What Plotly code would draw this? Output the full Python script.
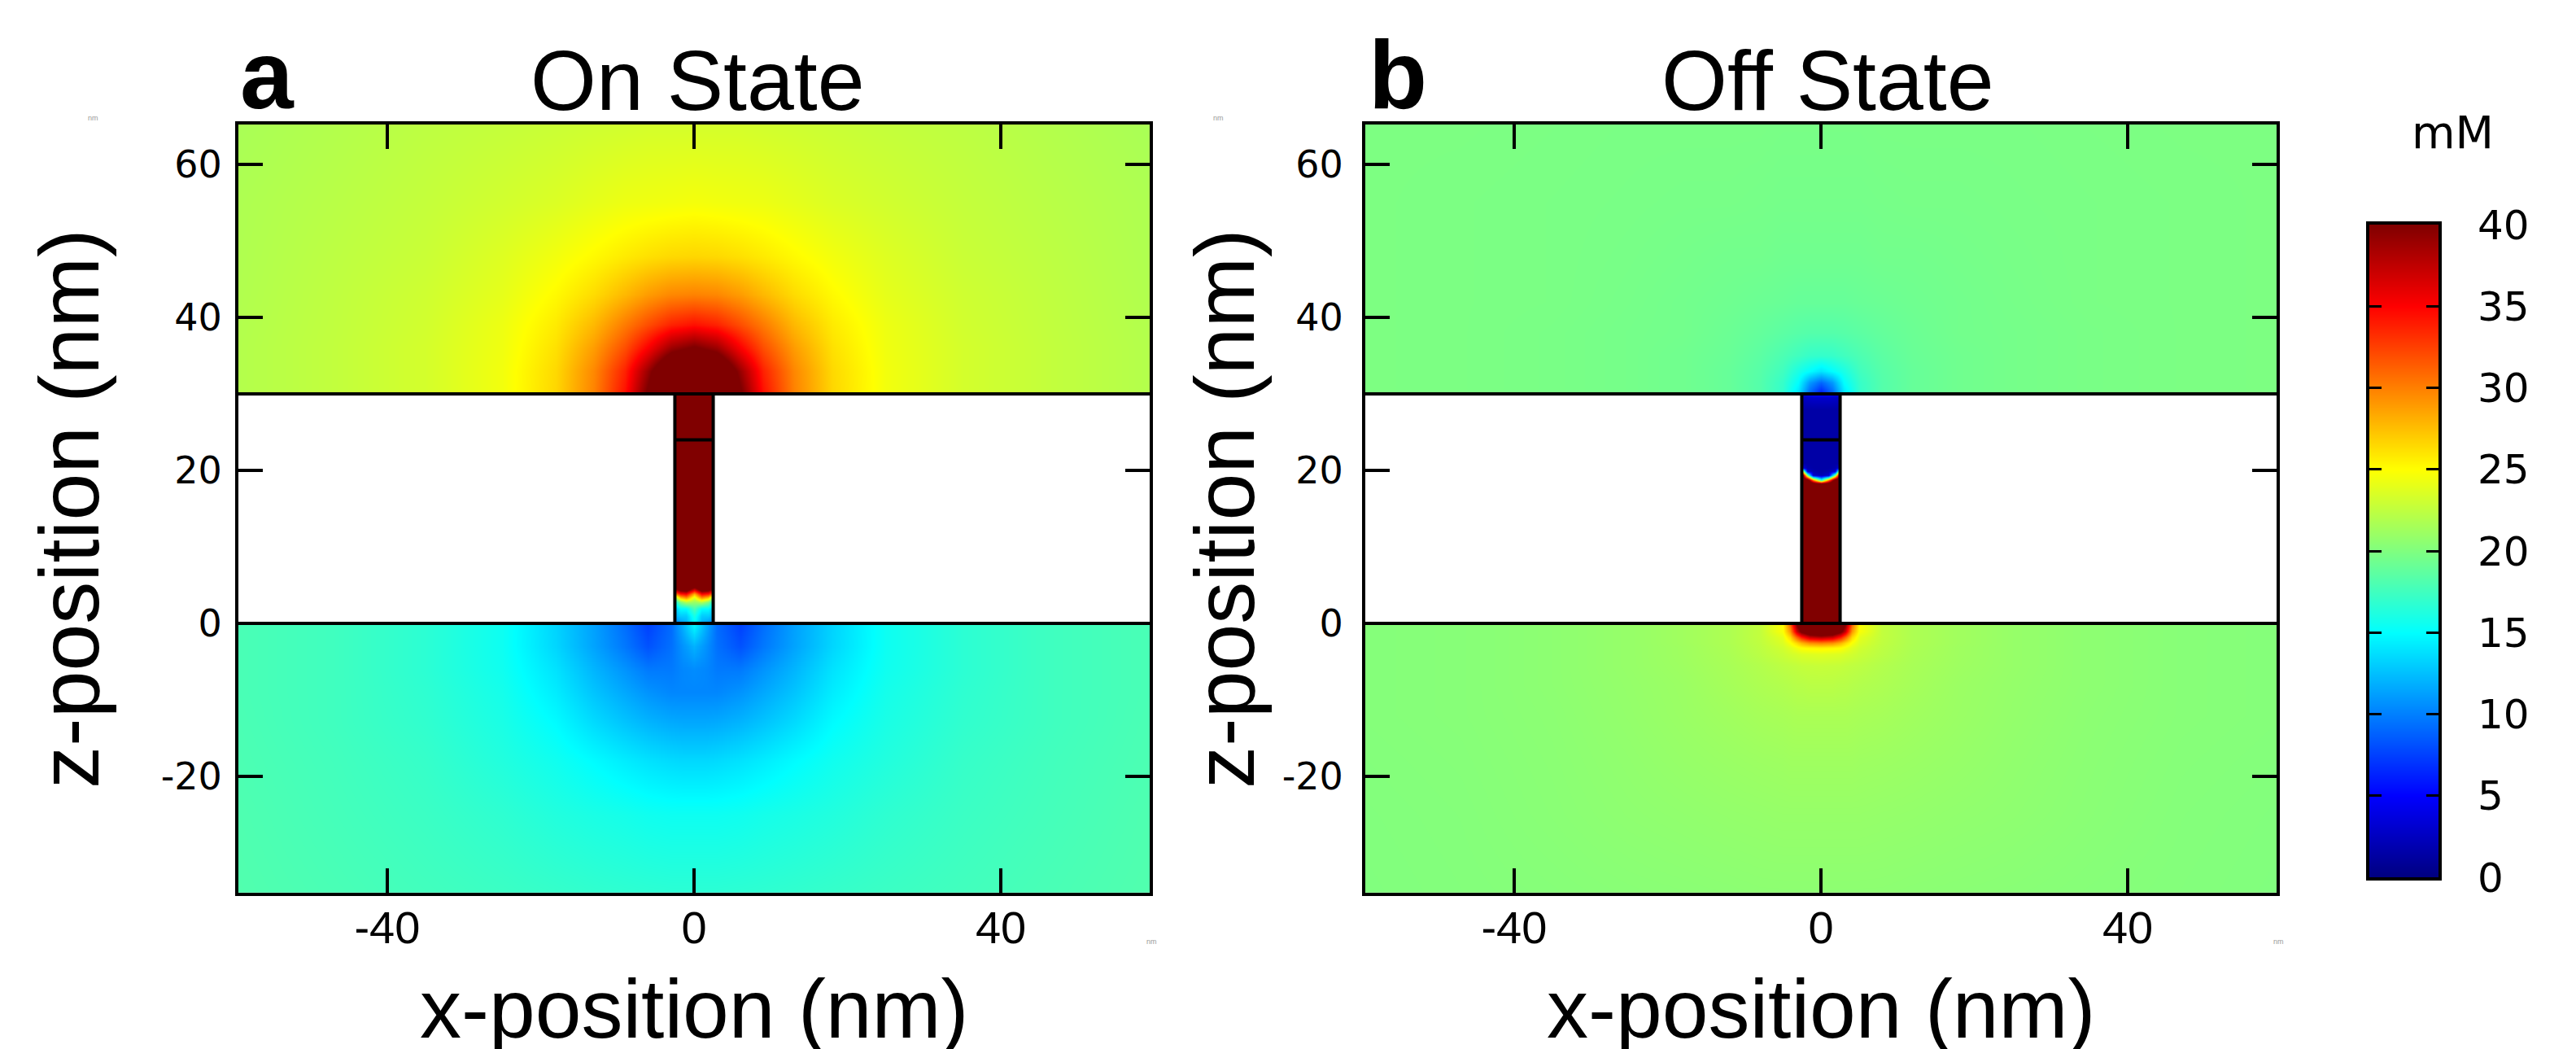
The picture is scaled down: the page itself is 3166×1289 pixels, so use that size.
import plotly.graph_objects as go

W, H = 3166, 1289

# ---------------- data ----------------
x_range = [-59.4, 59.4]
z_range = [-35.2, 65.2]
x_ticks = [-40, 0, 40]
x_tick_text = ["-40", "0", "40"]
z_ticks = [-20, 0, 20, 40, 60]
z_tick_text = ["-20", "0", "20", "40", "60"]
cbar_ticks = [0, 5, 10, 15, 20, 25, 30, 35, 40]
cbar_range = [0, 40]
panel_titles = ["On State", "Off State"]
panel_letters = ["a", "b"]
membrane_z = [0, 30]        # membrane faces (nm)
pore_radius = 2.5           # nm
pore_mark_z = 24            # inner line in pore (nm)

# ---- On state: reservoir above membrane (half grid, x >= 0) ----
on_top_x = [0, 3, 6, 9, 13, 18, 25, 35, 47, 60]
on_top_z = [30, 30.05, 33, 36, 39, 43, 48, 55, 66]
on_top_c = [
    [50, 47, 40.5, 34.4, 29.9, 26.6, 24.5, 23.3, 22.6, 22.0],
    [50, 47, 40.5, 34.4, 29.9, 26.6, 24.5, 23.3, 22.6, 22.0],
    [47, 45, 39, 33.7, 29.7, 26.5, 24.5, 23.3, 22.6, 22.0],
    [40.5, 39, 35.2, 32, 28.9, 26.2, 24.4, 23.3, 22.6, 22.0],
    [34.4, 33.7, 32, 30.2, 27.8, 25.8, 24.3, 23.2, 22.55, 21.95],
    [29.9, 29.7, 28.9, 27.8, 26.4, 25.2, 24.0, 23.1, 22.5, 21.9],
    [26.6, 26.5, 26.2, 25.8, 25.2, 24.5, 23.7, 22.9, 22.4, 21.85],
    [24.6, 24.5, 24.4, 24.3, 24.0, 23.6, 23.2, 22.7, 22.25, 21.8],
    [23.2, 23.2, 23.2, 23.1, 23.0, 22.85, 22.65, 22.4, 22.0, 21.6],
]

# ---- On state: reservoir below membrane ----
on_bot_x = [0, 1.5, 3, 6, 9, 13, 18, 25, 35, 47, 60]
on_bot_z = [-36, -25, -18, -13, -9, -6, -3, -0.05, 0]
on_bot_c = [
    [16.8, 16.8, 16.8, 16.85, 16.9, 17.0, 17.15, 17.35, 17.6, 17.9, 18.2],
    [15.5, 15.5, 15.5, 15.6, 15.8, 16.0, 16.3, 16.8, 17.3, 17.7, 18.1],
    [13.5, 13.5, 13.6, 13.9, 14.3, 14.9, 15.6, 16.3, 17.1, 17.6, 18.0],
    [11.6, 11.6, 11.7, 12.1, 12.7, 13.6, 14.9, 16.0, 16.9, 17.5, 17.95],
    [10.3, 10.3, 10.3, 10.8, 11.6, 12.7, 14.3, 15.8, 16.8, 17.5, 17.9],
    [10.5, 10.3, 9.8, 9.8, 10.8, 12.1, 13.9, 15.6, 16.7, 17.5, 17.9],
    [12.0, 10.8, 9.4, 8.2, 9.7, 11.4, 13.4, 15.5, 16.7, 17.5, 17.9],
    [15.0, 12.0, 9.2, 7.5, 9.3, 11.3, 13.3, 15.5, 16.7, 17.5, 17.9],
    [15.0, 12.0, 9.2, 7.5, 9.3, 11.3, 13.3, 15.5, 16.7, 17.5, 17.9],
]

# ---- On state: inside the pore ----
on_pore_x = [0, 1.0, 1.8, 2.45, 2.5]
on_pore_z = [0, 0.05, 1, 2, 2.8, 3.4, 3.9, 4.4, 5, 6, 29.95, 30]
on_pore_c = [
    [15, 12, 11, 10, 10],
    [15, 12, 11, 10, 10],
    [16, 13, 13, 12, 12],
    [18, 15, 15, 13, 13],
    [21, 22, 20, 16, 16],
    [24, 30, 28, 22, 22],
    [28, 35, 34, 30, 30],
    [36, 42, 41, 38, 38],
    [44, 46, 46, 45, 45],
    [48, 48, 48, 48, 48],
    [48, 48, 48, 48, 48],
    [48, 48, 48, 48, 48],
]

# ---- Off state: reservoir above membrane ----
off_top_x = [0, 1.5, 3, 5, 8, 12, 18, 25, 35, 47, 60]
off_top_z = [30, 30.05, 31.5, 33, 35, 38, 42, 48, 55, 66]
off_top_c = [
    [6, 9, 14, 17, 18.3, 19.0, 19.4, 19.6, 19.75, 19.85, 19.9],
    [6, 9, 14, 17, 18.3, 19.0, 19.4, 19.6, 19.75, 19.85, 19.9],
    [9, 11, 15, 17.1, 18.3, 19.0, 19.4, 19.6, 19.75, 19.85, 19.9],
    [14, 15, 16, 17.5, 18.4, 19.0, 19.4, 19.6, 19.75, 19.85, 19.9],
    [17, 17.1, 17.5, 18.0, 18.6, 19.1, 19.4, 19.6, 19.75, 19.85, 19.9],
    [18.3, 18.3, 18.4, 18.6, 18.9, 19.2, 19.5, 19.6, 19.75, 19.85, 19.9],
    [19.0, 19.0, 19.0, 19.1, 19.2, 19.35, 19.5, 19.65, 19.8, 19.85, 19.9],
    [19.4, 19.4, 19.4, 19.4, 19.5, 19.5, 19.6, 19.7, 19.8, 19.85, 19.9],
    [19.6, 19.6, 19.6, 19.6, 19.65, 19.7, 19.7, 19.75, 19.8, 19.85, 19.9],
    [19.75, 19.75, 19.75, 19.75, 19.8, 19.8, 19.8, 19.8, 19.85, 19.9, 19.9],
]

# ---- Off state: reservoir below membrane ----
off_bot_x = [0, 1.5, 2.5, 3.2, 4, 5, 8, 12, 18, 25, 35, 47, 60]
off_bot_z = [-36, -25, -18, -12, -8, -5.5, -4, -3.2, -2.5, -1.8, -1, -0.05, 0]
off_bot_c = [
    [20.5, 20.5, 20.5, 20.5, 20.5, 20.5, 20.5, 20.45, 20.4, 20.35, 20.25, 20.15, 20.05],
    [20.9, 20.9, 20.9, 20.9, 20.9, 20.9, 20.85, 20.8, 20.7, 20.6, 20.4, 20.2, 20.1],
    [21.25, 21.25, 21.25, 21.25, 21.25, 21.2, 21.15, 21.05, 20.9, 20.7, 20.45, 20.25, 20.15],
    [21.7, 21.7, 21.7, 21.7, 21.65, 21.6, 21.5, 21.3, 21.05, 20.8, 20.5, 20.3, 20.2],
    [22.3, 22.3, 22.2, 22.2, 22.1, 22.0, 21.8, 21.5, 21.1, 20.85, 20.55, 20.3, 20.2],
    [22.8, 22.75, 22.7, 22.6, 22.5, 22.4, 22.0, 21.6, 21.2, 20.9, 20.55, 20.3, 20.2],
    [23.8, 23.7, 23.6, 23.4, 23.2, 22.9, 22.3, 21.7, 21.25, 20.9, 20.55, 20.3, 20.2],
    [25.5, 25.3, 25.0, 24.5, 23.8, 23.2, 22.4, 21.75, 21.25, 20.9, 20.55, 20.3, 20.2],
    [30, 29.5, 28, 26.5, 24.8, 23.6, 22.5, 21.8, 21.3, 20.9, 20.55, 20.3, 20.2],
    [38, 37, 34, 31, 26.5, 24, 22.6, 21.8, 21.3, 20.9, 20.55, 20.3, 20.2],
    [45, 44, 41, 37, 29, 24.8, 22.6, 21.8, 21.3, 20.9, 20.55, 20.3, 20.2],
    [48, 47, 44, 40, 31, 25, 22.6, 21.8, 21.3, 20.9, 20.55, 20.3, 20.2],
    [48, 47, 44, 40, 31, 25, 22.6, 21.8, 21.3, 20.9, 20.55, 20.3, 20.2],
]

# ---- Off state: inside the pore ----
off_pore_x = [0, 1.0, 1.8, 2.45, 2.5]
off_pore_z = [0, 0.05, 17.5, 18.2, 18.8, 19.4, 19.9, 20.4, 21, 28, 29.5, 29.95, 30]
off_pore_c = [
    [48, 48, 48, 48, 48],
    [48, 48, 48, 48, 48],
    [48, 48, 48, 48, 48],
    [45, 46, 47, 48, 48],
    [16, 30, 44, 46, 46],
    [2, 3, 20, 42, 42],
    [1.5, 1.8, 3, 24, 24],
    [1.5, 1.5, 1.8, 4, 4],
    [1.5, 1.5, 1.5, 1.5, 1.5],
    [1.5, 1.5, 1.5, 1.5, 1.5],
    [3, 3, 2.8, 2.5, 2.5],
    [5, 5, 4, 3.5, 3.5],
    [5, 5, 4, 3.5, 3.5],
]

# ---------------- styling ----------------
JET = [[0.0, "rgb(0,0,128)"], [0.125, "rgb(0,0,255)"], [0.375, "rgb(0,255,255)"],
       [0.625, "rgb(255,255,0)"], [0.875, "rgb(255,0,0)"], [1.0, "rgb(128,0,0)"]]
SANS = "Liberation Sans, Arial, sans-serif"
DEJA = "DejaVu Sans, sans-serif"
OFF = 8  # page body margin of the html page


def px(x):
    return (x - OFF) / W


def py(y):
    return 1 - (y - OFF) / H


def mirror_x(xh):
    return [-v for v in xh[:0:-1]] + list(xh)


def mirror_rows(rows):
    return [list(r[:0:-1]) + list(r) for r in rows]


fig = go.Figure()

fields = [
    ("x", "y", [(on_top_x, on_top_z, on_top_c), (on_bot_x, on_bot_z, on_bot_c),
                (on_pore_x, on_pore_z, on_pore_c)]),
    ("x2", "y2", [(off_top_x, off_top_z, off_top_c), (off_bot_x, off_bot_z, off_bot_c),
                  (off_pore_x, off_pore_z, off_pore_c)]),
]
for xa, ya, parts in fields:
    for xh, zz, rows in parts:
        fig.add_trace(go.Heatmap(
            x=mirror_x(xh), y=zz, z=mirror_rows(rows), zsmooth="best",
            colorscale=JET, zmin=cbar_range[0], zmax=cbar_range[1],
            showscale=False, hoverinfo="skip", xaxis=xa, yaxis=ya))

# colour bar drawn as its own small subplot (ticks on both sides)
fig.add_trace(go.Heatmap(
    x=[0, 1], y=cbar_range, z=[[cbar_range[0]] * 2, [cbar_range[1]] * 2],
    zsmooth="best", colorscale=JET, zmin=cbar_range[0], zmax=cbar_range[1],
    showscale=False, hoverinfo="skip", xaxis="x3", yaxis="y3"))

# geometry lines
shapes = []
for xa, ya in [("x", "y"), ("x2", "y2")]:
    for zm in membrane_z:
        shapes.append(dict(type="line", xref=f"{xa} domain", yref=ya, x0=0, x1=1,
                           y0=zm, y1=zm, line=dict(color="black", width=4)))
    for sx in (-pore_radius, pore_radius):
        shapes.append(dict(type="line", xref=xa, yref=ya, x0=sx, x1=sx,
                           y0=membrane_z[0], y1=membrane_z[1],
                           line=dict(color="black", width=4)))
    shapes.append(dict(type="line", xref=xa, yref=ya, x0=-pore_radius, x1=pore_radius,
                       y0=pore_mark_z, y1=pore_mark_z, line=dict(color="black", width=4)))

axis_common = dict(showline=True, linewidth=4, linecolor="black", mirror="ticks",
                   ticks="inside", ticklen=30, tickwidth=4, tickcolor="black",
                   showgrid=False, zeroline=False, automargin=False)

x_dom_a = [px(293), px(1413)]
x_dom_b = [px(1678), px(2798)]
y_dom = [py(1097), py(153)]
xfont = dict(family=SANS, size=56, color="black")
yfont = dict(family=DEJA, size=46, color="black")

layout = dict(
    width=W, height=H, margin=dict(l=0, r=0, t=0, b=0, pad=0, autoexpand=False),
    paper_bgcolor="white", plot_bgcolor="white", showlegend=False,
    xaxis=dict(domain=x_dom_a, range=x_range, tickvals=x_ticks, ticktext=x_tick_text,
               anchor="y", tickfont=xfont, ticklabelstandoff=-9, **axis_common),
    yaxis=dict(domain=y_dom, range=z_range, tickvals=z_ticks, ticktext=z_tick_text,
               anchor="x", tickfont=yfont, ticklabelstandoff=7, **axis_common),
    xaxis2=dict(domain=x_dom_b, range=x_range, tickvals=x_ticks, ticktext=x_tick_text,
                anchor="y2", tickfont=xfont, ticklabelstandoff=-9, **axis_common),
    yaxis2=dict(domain=y_dom, range=z_range, tickvals=z_ticks, ticktext=z_tick_text,
                anchor="x2", tickfont=yfont, ticklabelstandoff=14, **axis_common),
    xaxis3=dict(domain=[px(2912), px(2997)], range=[0, 1], anchor="y3",
                showline=True, linewidth=4, linecolor="black", mirror=True,
                ticks="", showticklabels=False, showgrid=False, zeroline=False,
                automargin=False),
    yaxis3=dict(domain=[py(1078), py(276)], range=cbar_range, tickvals=cbar_ticks,
                anchor="x3", side="right", showline=True, linewidth=4, linecolor="black",
                mirror="ticks", ticks="inside", ticklen=15, tickwidth=3, tickcolor="black",
                tickfont=dict(family=DEJA, size=50, color="black"), ticklabelstandoff=34,
                showgrid=False, zeroline=False, automargin=False),
    shapes=shapes,
)
fig.update_layout(**layout)

ann = []
for i, (xd, title, letter, lx, tx) in enumerate(zip(
        [x_dom_a, x_dom_b], panel_titles, panel_letters, [293, 1680], [857, 2246])):
    cx = (xd[0] + xd[1]) / 2
    ann.append(dict(text=title, x=px(tx), y=py(99), xref="paper", yref="paper",
                    xanchor="center", yanchor="middle", showarrow=False,
                    font=dict(family=SANS, size=104, color="black")))
    ann.append(dict(text=f"<b>{letter}</b>", x=px(lx), y=py(92),
                    xref="paper", yref="paper", xanchor="left", yanchor="middle",
                    showarrow=False, font=dict(family=SANS, size=118, color="black")))
    ann.append(dict(text="x-position (nm)", x=cx, y=py(1240), xref="paper", yref="paper",
                    xanchor="center", yanchor="middle", showarrow=False,
                    font=dict(family=SANS, size=102, color="black")))
for xc in (85, 1505):
    ann.append(dict(text="z-position (nm)", x=px(xc), y=(y_dom[0] + y_dom[1]) / 2,
                    xref="paper", yref="paper", xanchor="center", yanchor="middle",
                    textangle=-90, showarrow=False,
                    font=dict(family=SANS, size=104, color="black")))
ann.append(dict(text="mM", x=px(3014), y=py(163), xref="paper", yref="paper",
                xanchor="center", yanchor="middle", showarrow=False,
                font=dict(family=DEJA, size=55, color="black")))
# tiny grey unit marks present in the original figure
for tx, ty in [(115, 145), (1497, 145), (1415, 1157), (2800, 1157)]:
    ann.append(dict(text="nm", x=px(tx), y=py(ty), xref="paper", yref="paper",
                    xanchor="center", yanchor="middle", showarrow=False,
                    font=dict(family=SANS, size=9, color="#9a9a9a")))
fig.update_layout(annotations=ann)

fig.write_html("out.html")
